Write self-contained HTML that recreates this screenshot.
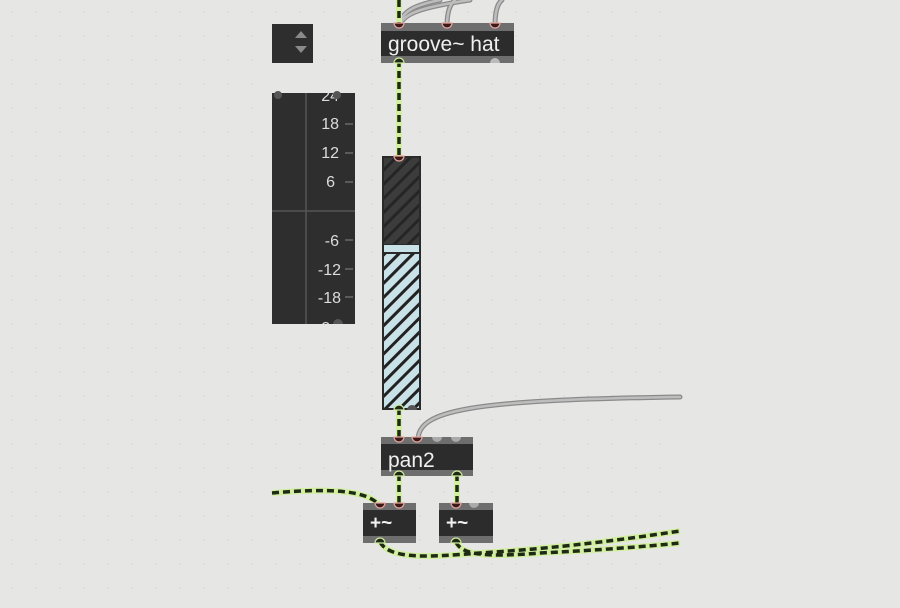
<!DOCTYPE html>
<html><head><meta charset="utf-8"><style>
html,body{margin:0;padding:0;background:#e6e7e5;}
svg{display:block;}
text{font-family:"Liberation Sans",sans-serif;}
</style></head><body>
<svg width="900" height="608" viewBox="0 0 900 608" xmlns="http://www.w3.org/2000/svg">
<defs>
<pattern id="dots" width="24" height="24" patternUnits="userSpaceOnUse"><circle cx="12" cy="12" r="0.8" fill="#d2d3d1"/></pattern>
<pattern id="hd" width="10" height="10" patternUnits="userSpaceOnUse" patternTransform="rotate(45)"><rect width="10" height="10" fill="#3c3c3c"/><rect width="3" height="10" fill="#252525"/></pattern>
<pattern id="hl" width="10" height="10" patternUnits="userSpaceOnUse" patternTransform="rotate(45)"><rect width="10" height="10" fill="#c9e2e8"/><rect width="3" height="10" fill="#222"/></pattern>
</defs>
<rect width="900" height="608" fill="#e6e7e5"/>
<rect width="680" height="608" fill="url(#dots)"/>

<g fill="none" stroke="#8a8a8a" stroke-width="5" stroke-linecap="round">
<path d="M400 26 C400 10 420 4 440 0"/>
<path d="M400 26 C402 12 430 6 470 0"/>
<path d="M447 26 C447 12 450 4 455 0"/>
<path d="M495 26 C495 12 497 4 502 0"/>
<path d="M418 440 C418 410 470 400 680 397"/>
</g>
<g fill="none" stroke="#bdbdbd" stroke-width="2.5" stroke-linecap="round">
<path d="M400 26 C400 10 420 4 440 0"/>
<path d="M400 26 C402 12 430 6 470 0"/>
<path d="M447 26 C447 12 450 4 455 0"/>
<path d="M495 26 C495 12 497 4 502 0"/>
<path d="M418 440 C418 410 470 400 680 397"/>
</g>

<g fill="none" stroke-linecap="butt">
<g stroke="#d2eea0" stroke-width="6">
<path d="M399 0 L399 26"/>
<path d="M399 60 L399 158"/>
<path d="M399 408 L399 440"/>
<path d="M399 474 L399 506"/>
<path d="M457 474 L457 506"/>
<path d="M272 493 C330 488 368 490 380 506"/>
<path d="M380 542 C390 560 430 557 480 553 C560 548 620 540 680 531"/>
<path d="M456 542 C462 556 490 557 540 553 C600 550 640 547 680 543"/>
</g>
<g stroke="#1e2a14" stroke-width="3.5" stroke-dasharray="7 4">
<path d="M399 0 L399 26"/>
<path d="M399 60 L399 158"/>
<path d="M399 408 L399 440"/>
<path d="M399 474 L399 506"/>
<path d="M457 474 L457 506"/>
<path d="M272 493 C330 488 368 490 380 506"/>
<path d="M380 542 C390 560 430 557 480 553 C560 548 620 540 680 531"/>
<path d="M456 542 C462 556 490 557 540 553 C600 550 640 547 680 543"/>
</g>
</g>

<rect x="272" y="24" width="41" height="39" fill="#2e2e2e"/>
<polygon points="301,31 307,38 295,38" fill="#8a8a8a"/>
<polygon points="295,46 307,46 301,53" fill="#8a8a8a"/>

<rect x="272" y="93" width="83" height="231" fill="#2e2e2e"/>
<line x1="306" y1="93" x2="306" y2="324" stroke="#555" stroke-width="1.5"/>
<line x1="272" y1="211" x2="355" y2="211" stroke="#555" stroke-width="1.5"/>
<g fill="#dcdcdc" font-size="16" text-anchor="end">
<text x="339" y="101">24</text>
<text x="339" y="129">18</text>
<text x="339" y="158">12</text>
<text x="335" y="187">6</text>
<text x="339" y="246">-6</text>
<text x="341" y="275">-12</text>
<text x="341" y="303">-18</text>
<text x="339" y="333">-24</text>
</g>
<rect x="272" y="80" width="83" height="13" fill="#e6e7e5"/>
<rect x="272" y="324" width="83" height="12" fill="#e6e7e5"/>
<g stroke="#777" stroke-width="1.2">
<line x1="345" y1="124" x2="353" y2="124"/><line x1="345" y1="153" x2="353" y2="153"/>
<line x1="345" y1="182" x2="353" y2="182"/><line x1="345" y1="240" x2="353" y2="240"/>
<line x1="345" y1="269" x2="353" y2="269"/><line x1="345" y1="297" x2="353" y2="297"/>
</g>
<circle cx="278" cy="95" r="4" fill="#555"/>
<circle cx="337" cy="95" r="4" fill="#555"/>
<path d="M333 324 a5 5 0 0 1 10 0z" fill="#555"/>

<rect x="381" y="23" width="133" height="40" fill="#2c2c2c"/>
<rect x="381" y="23" width="133" height="8" fill="#6e6e6e"/>
<rect x="381" y="56" width="133" height="7" fill="#6e6e6e"/>
<text x="388" y="51" fill="#f0f0f0" font-size="21">groove~ hat</text>
<g fill="#3a1a1a" stroke="#e6a6a0" stroke-width="1.2">
<path d="M394 23 a5 5 0 0 0 10 0z"/><path d="M442 23 a5 5 0 0 0 10 0z"/><path d="M490 23 a5 5 0 0 0 10 0z"/>
</g>
<path d="M394 63 a5 5 0 0 1 10 0z" fill="#1e2a14" stroke="#cfeaa0" stroke-width="1.2"/>
<path d="M490 63 a5 5 0 0 1 10 0z" fill="#bbb"/>

<rect x="382" y="156" width="39" height="254" fill="#2a2a2a"/>
<rect x="384" y="158" width="35" height="86" fill="url(#hd)"/>
<rect x="384" y="245" width="35" height="7" fill="#c9e2e8"/>
<rect x="384" y="254" width="35" height="154" fill="url(#hl)"/>
<path d="M394 156 a5 5 0 0 0 10 0z" fill="#3a1a1a" stroke="#e6a6a0" stroke-width="1.2"/>
<path d="M394 410 a5 5 0 0 1 10 0z" fill="#1e2a14" stroke="#cfeaa0" stroke-width="1.2"/>
<path d="M407 410 a5 5 0 0 1 10 0z" fill="#555"/>

<rect x="381" y="437" width="92" height="39" fill="#2c2c2c"/>
<rect x="381" y="437" width="92" height="7" fill="#6e6e6e"/>
<rect x="381" y="470" width="92" height="6" fill="#6e6e6e"/>
<text x="388" y="467" fill="#f0f0f0" font-size="21">pan2</text>
<g fill="#3a1a1a" stroke="#e6a6a0" stroke-width="1.2">
<path d="M394 437 a5 5 0 0 0 10 0z"/><path d="M412 437 a5 5 0 0 0 10 0z"/>
</g>
<path d="M432 437 a5 5 0 0 0 10 0z" fill="#aaa"/><path d="M451 437 a5 5 0 0 0 10 0z" fill="#aaa"/>
<g fill="#1e2a14" stroke="#cfeaa0" stroke-width="1.2">
<path d="M394 476 a5 5 0 0 1 10 0z"/><path d="M452 476 a5 5 0 0 1 10 0z"/>
</g>

<rect x="363" y="503" width="53" height="40" fill="#2c2c2c"/>
<rect x="363" y="503" width="53" height="7" fill="#6e6e6e"/>
<rect x="363" y="536" width="53" height="7" fill="#6e6e6e"/>
<text x="370" y="529" fill="#f0f0f0" font-size="19" font-weight="bold">+~</text>
<rect x="439" y="503" width="54" height="40" fill="#2c2c2c"/>
<rect x="439" y="503" width="54" height="7" fill="#6e6e6e"/>
<rect x="439" y="536" width="54" height="7" fill="#6e6e6e"/>
<text x="446" y="529" fill="#f0f0f0" font-size="19" font-weight="bold">+~</text>
<g fill="#3a1a1a" stroke="#e6a6a0" stroke-width="1.2">
<path d="M375 503 a5 5 0 0 0 10 0z"/><path d="M394 503 a5 5 0 0 0 10 0z"/><path d="M451 503 a5 5 0 0 0 10 0z"/>
</g>
<path d="M469 503 a5 5 0 0 0 10 0z" fill="#aaa"/>
<g fill="#1e2a14" stroke="#cfeaa0" stroke-width="1.2">
<path d="M375 543 a5 5 0 0 1 10 0z"/><path d="M451 543 a5 5 0 0 1 10 0z"/>
</g>
</svg>
</body></html>
